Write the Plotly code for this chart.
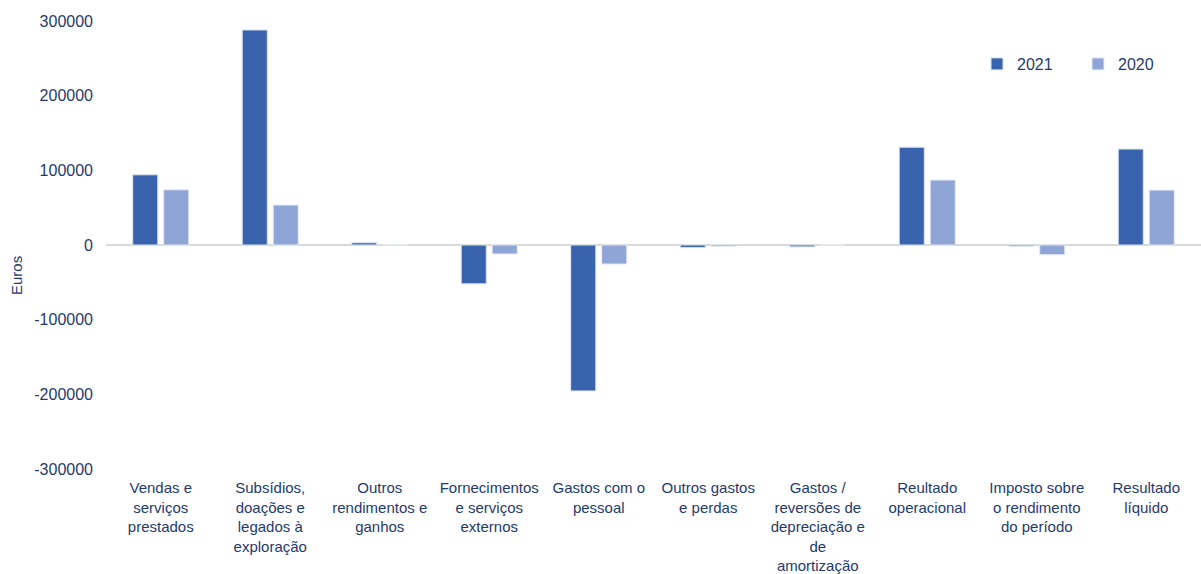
import plotly.graph_objects as go

categories = [
    "Vendas e<br>serviços<br>prestados",
    "Subsídios,<br>doações e<br>legados à<br>exploração",
    "Outros<br>rendimentos e<br>ganhos",
    "Fornecimentos<br>e serviços<br>externos",
    "Gastos com o<br>pessoal",
    "Outros gastos<br>e perdas",
    "Gastos /<br>reversões de<br>depreciação e<br>de<br>amortização",
    "Reultado<br>operacional",
    "Imposto sobre<br>o rendimento<br>do período",
    "Resultado<br>líquido",
]
values_2021 = [94000, 288000, 3000, -52000, -195500, -3500, -2500, 131000, -1500, 128500]
values_2020 = [74000, 53500, 0, -12000, -25500, -2000, 0, 87000, -13000, 73500]
y_ticks = [-300000, -200000, -100000, 0, 100000, 200000, 300000]
y_tick_labels = ["-300000", "-200000", "-100000", "0", "100000", "200000", "300000"]

text_color = "#1F3A6E"
font_family = "Liberation Sans, Arial, sans-serif"

fig = go.Figure()
fig.add_trace(go.Bar(name="2021", x=categories, y=values_2021,
                     marker=dict(color="#3A63AD", line=dict(color="#DCE4F2", width=1))))
fig.add_trace(go.Bar(name="2020", x=categories, y=values_2020,
                     marker=dict(color="#8FA5D6", line=dict(color="#E4EAF6", width=1))))

plot_l, plot_r, plot_t, plot_b = 106, 0, 21, 105
plot_w = 1201 - plot_l - plot_r
plot_h = 574 - plot_t - plot_b

fig.update_layout(
    width=1201, height=574,
    margin=dict(l=plot_l, r=plot_r, t=plot_t, b=plot_b, autoexpand=False),
    paper_bgcolor="white", plot_bgcolor="white",
    font=dict(family=font_family, size=16, color=text_color),
    barmode="group", bargap=0.434, bargroupgap=0.19,
    showlegend=True,
    legend=dict(orientation="h", x=(977 - plot_l) / plot_w, y=(574 - plot_b - 64) / plot_h,
                xanchor="left", yanchor="middle",
                entrywidth=56, entrywidthmode="pixels", itemwidth=30,
                font=dict(size=16, color=text_color), bgcolor="rgba(0,0,0,0)"),
    annotations=[dict(text="Euros", textangle=-90,
                      x=(16 - plot_l) / plot_w, y=(574 - plot_b - 276) / plot_h,
                      xref="paper", yref="paper", xanchor="center", yanchor="middle",
                      showarrow=False, font=dict(size=15, color=text_color))],
)

fig.update_xaxes(showgrid=False, showline=False, ticks="", tickangle=0, automargin=False,
                 ticklabelstandoff=8, tickfont=dict(size=15, color=text_color))
fig.update_yaxes(range=[-300000, 300000], tickvals=y_ticks, ticktext=y_tick_labels,
                 showgrid=False, showline=False, zeroline=True, zerolinecolor="#D9D9D9",
                 zerolinewidth=2, ticklabelstandoff=12, automargin=False,
                 tickfont=dict(size=16, color=text_color))

fig.write_html("out.html")
